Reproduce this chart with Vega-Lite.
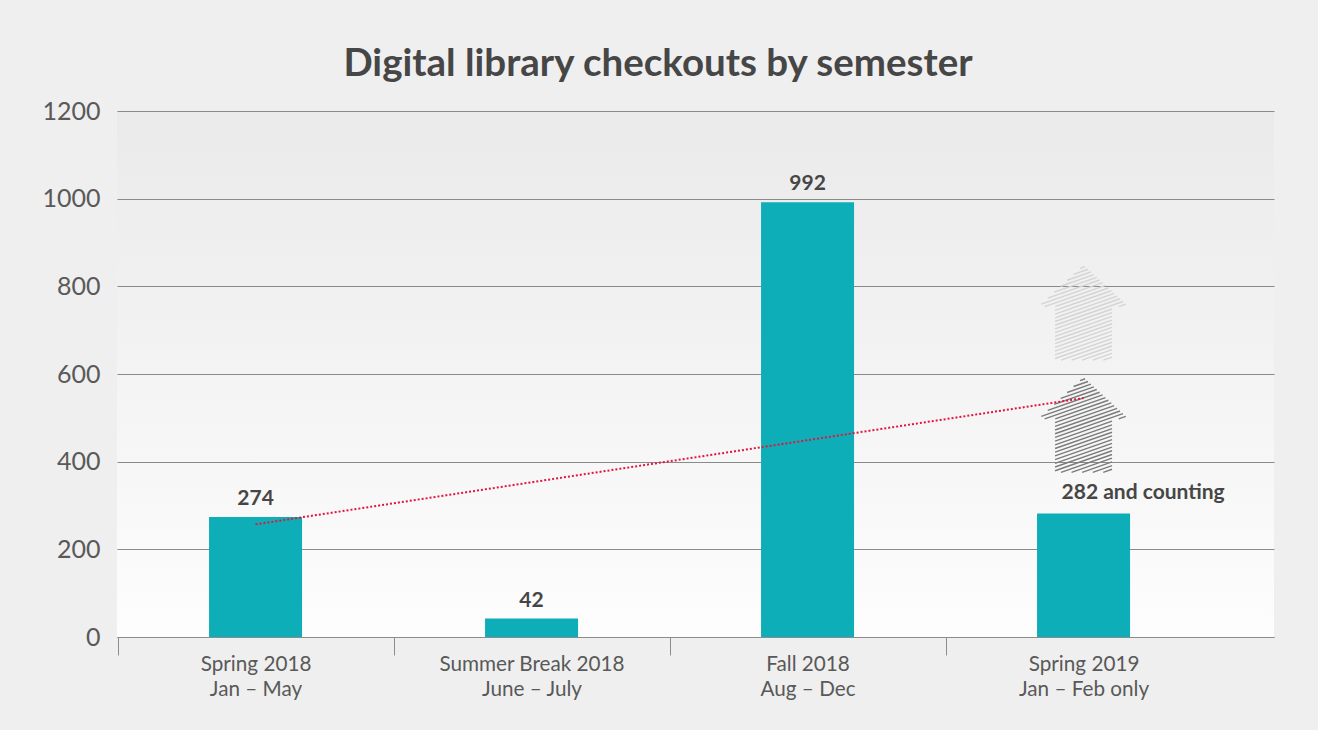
{
  "$schema": "https://vega.github.io/schema/vega-lite/v6.json",
  "width": 1157,
  "height": 526,
  "autosize": {"type": "none"},
  "padding": {"left": 117, "top": 111, "right": 44, "bottom": 93},
  "background": "#efefef",
  "title": {
    "text": "Digital library checkouts by semester",
    "anchor": "middle",
    "frame": "bounds",
    "font": "Lato",
    "fontSize": 38.5,
    "fontWeight": "bold",
    "color": "#464646",
    "baseline": "alphabetic",
    "offset": -15
  },
  "config": {
    "font": "Lato",
    "view": {
      "stroke": null,
      "fill": {
        "gradient": "linear",
        "x1": 0, "y1": 0, "x2": 0, "y2": 1,
        "stops": [
          {"offset": 0, "color": "#eaeaea"},
          {"offset": 1, "color": "#fdfdfd"}
        ]
      }
    }
  },
  "datasets": {
    "semesters": [
      {"semester": "Spring 2018|Jan – May", "checkouts": 274, "label": "274", "trend": 257},
      {"semester": "Summer Break 2018|June – July", "checkouts": 42, "label": "42", "trend": null},
      {"semester": "Fall 2018|Aug – Dec", "checkouts": 992, "label": "992", "trend": null},
      {"semester": "Spring 2019|Jan – Feb only", "checkouts": 282, "label": "282 and counting", "trend": 545}
    ],
    "arrows": [
      {"semester": "Spring 2019|Jan – Feb only", "level": 484, "arrow": "current"},
      {"semester": "Spring 2019|Jan – Feb only", "level": 740, "arrow": "projected"}
    ]
  },
  "data": {"name": "semesters"},
  "encoding": {
    "x": {
      "field": "semester",
      "type": "nominal",
      "scale": {
        "domain": ["Spring 2018|Jan – May", "Summer Break 2018|June – July", "Fall 2018|Aug – Dec", "Spring 2019|Jan – Feb only"],
        "paddingInner": 0.663,
        "paddingOuter": 0.4275,
        "align": 0.39
      },
      "axis": {
        "title": null,
        "labelAngle": 0,
        "labelExpr": "split(datum.label, '|')",
        "labelFont": "Lato",
        "labelFontSize": 20.7,
        "labelColor": "#595959",
        "labelLineHeight": 25,
        "labelPadding": -1,
        "labelLimit": 400,
        "labelOffset": 138,
        "tickSize": 18,
        "tickColor": "#8c8c8c",
        "domainColor": "#8c8c8c",
        "tickOffset": -138
      }
    }
  },
  "layer": [
    {
      "mark": {"type": "bar", "color": "#0eaeb8"},
      "encoding": {
        "y": {
          "field": "checkouts",
          "type": "quantitative",
          "scale": {"domain": [0, 1200], "nice": false},
          "axis": {
            "title": null,
            "values": [0, 200, 400, 600, 800, 1000, 1200],
            "format": "d",
            "ticks": false,
            "domain": false,
            "gridColor": "#8a8a8a",
            "gridWidth": 1,
            "labelFont": "Lato",
            "labelFontSize": 25,
            "labelColor": "#595959",
            "labelPadding": 17
          }
        }
      }
    },
    {
      "data": {"name": "arrows"},
      "mark": {
        "type": "point",
        "shape": "M-0.074,-0.932L0.033,-0.970M-0.210,-0.807L0.094,-0.913M-0.346,-0.681L0.156,-0.857M-0.482,-0.556L0.217,-0.800M-0.618,-0.430L0.278,-0.744M-0.754,-0.304L0.339,-0.687M-0.890,-0.179L0.401,-0.631M-0.818,-0.126L0.462,-0.574M-0.596,-0.126L0.523,-0.518M-0.6,-0.047L0.584,-0.461M-0.6,0.031L0.645,-0.405M-0.6,0.109L0.707,-0.348M-0.6,0.187L0.768,-0.292M-0.6,0.265L0.829,-0.235M-0.6,0.343L0.6,-0.077M0.740,-0.126L0.890,-0.179M-0.6,0.421L0.6,0.001M-0.6,0.498L0.6,0.078M-0.6,0.576L0.6,0.156M-0.6,0.654L0.6,0.234M-0.6,0.732L0.6,0.312M-0.6,0.810L0.6,0.390M-0.6,0.888L0.6,0.468M-0.6,0.966L0.6,0.546M-0.475,1L0.6,0.624M-0.253,1L0.6,0.702M-0.030,1L0.6,0.780M0.193,1L0.6,0.857M0.415,1L0.6,0.935",
        "size": 9025,
        "filled": false,
        "strokeWidth": 1.4,
        "opacity": 1
      },
      "encoding": {
        "y": {"field": "level", "type": "quantitative"},
        "stroke": {
          "field": "arrow",
          "type": "nominal",
          "scale": {"domain": ["current", "projected"], "range": ["#7b7b7b", "#d4d4d4"]},
          "legend": null
        }
      }
    },
    {
      "transform": [{"filter": "datum.trend != null"}],
      "mark": {"type": "line", "color": "#e2163d", "strokeWidth": 2, "strokeDash": [2, 2]},
      "encoding": {
        "y": {"field": "trend", "type": "quantitative"}
      }
    },
    {
      "transform": [{"filter": "datum.semester !== 'Spring 2019|Jan – Feb only'"}],
      "mark": {"type": "text", "font": "Lato", "fontSize": 21, "fontWeight": "bold", "color": "#464646", "baseline": "alphabetic", "dy": -12},
      "encoding": {
        "y": {"field": "checkouts", "type": "quantitative"},
        "text": {"field": "label", "type": "nominal"}
      }
    },
    {
      "transform": [{"filter": "datum.semester === 'Spring 2019|Jan – Feb only'"}],
      "mark": {"type": "text", "font": "Lato", "fontSize": 21, "fontWeight": "bold", "color": "#464646", "baseline": "alphabetic", "align": "left", "dx": -22, "dy": -14},
      "encoding": {
        "y": {"field": "checkouts", "type": "quantitative"},
        "text": {"field": "label", "type": "nominal"}
      }
    }
  ]
}
